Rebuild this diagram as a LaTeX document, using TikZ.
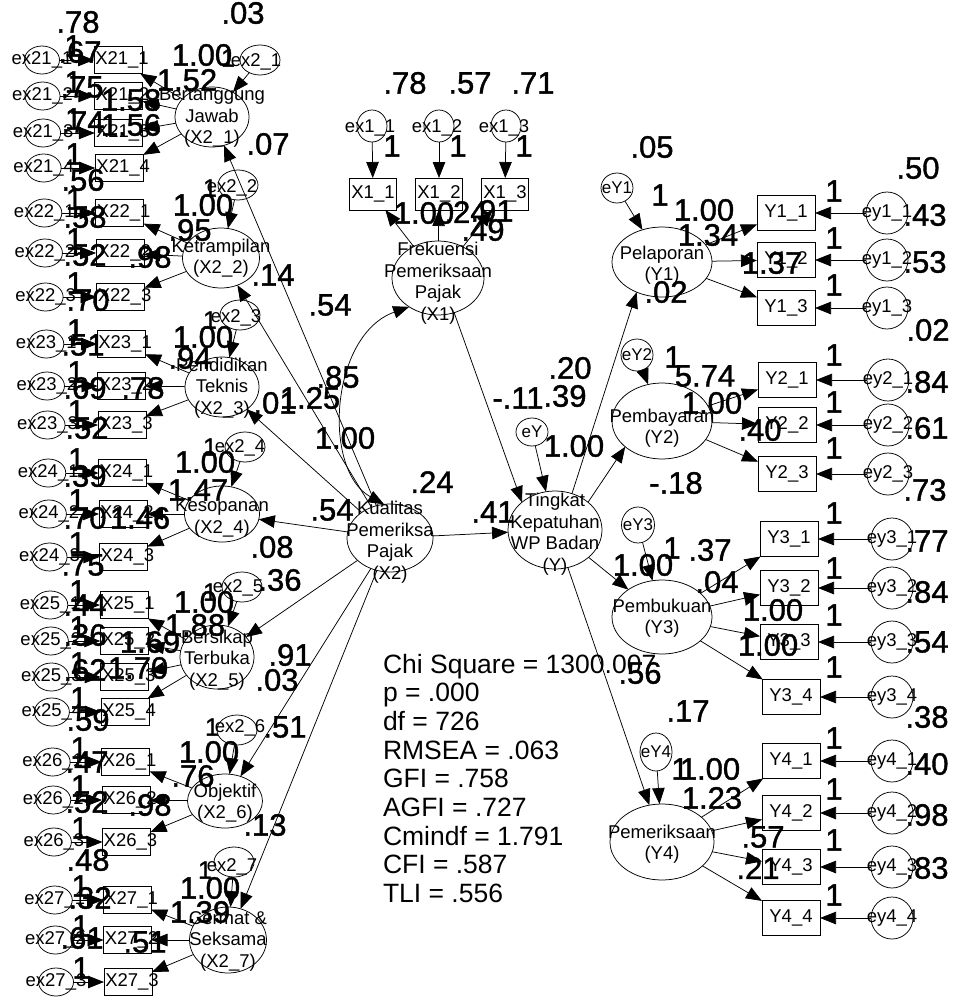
\documentclass[tikz,border=0pt]{standalone}
\usepackage{fontspec}
\setmainfont{Liberation Sans}
\newfontfamily\numfont[FakeBold=1.2]{Liberation Sans}
\usetikzlibrary{arrows.meta,shapes.geometric}
\begin{document}
\begin{tikzpicture}[x=1pt,y=-1pt,
  every node/.style={inner sep=0pt,outer sep=0pt},
  nm/.style={font=\fontsize{18.5}{21.5}\selectfont,align=center},
  sm/.style={font=\fontsize{17}{19}\selectfont},
  num/.style={font=\numfont\fontsize{31}{31}\selectfont},
  onesm/.style={font=\numfont\fontsize{25}{25}\selectfont},
  chi/.style={font=\fontsize{26.5}{28}\selectfont,anchor=base west},
  ln/.style={line width=0.75pt},
  boxL/.style={draw,ln,rectangle,minimum width=48pt,minimum height=27pt},
  boxM/.style={draw,ln,rectangle,minimum width=47pt,minimum height=32pt,font=\fontsize{18.5}{20}\selectfont},
  boxR/.style={draw,ln,rectangle,minimum width=58pt,minimum height=35pt,font=\fontsize{18.5}{20}\selectfont},
  lat/.style={draw,ln,ellipse},
  cir/.style={draw,ln,ellipse},
  arr/.style={ln,-{Triangle[length=16pt,width=12.5pt]}},
  darr/.style={ln,{Triangle[length=16pt,width=12.5pt]}-{Triangle[length=16pt,width=12.5pt]}},
]
\useasboundingbox (0,0) rectangle (953,1002);

% ---------------- left indicator column ----------------
\foreach \i/\el/\bl/\yy in {1/ex21\_1/X21\_1/60,2/ex21\_2/X21\_2/96,3/ex21\_3/X21\_3/133,4/ex21\_4/X21\_4/168,
  5/ex22\_1/X22\_1/213,6/ex22\_2/X22\_2/253,7/ex22\_3/X22\_3/297,
  8/ex23\_1/X23\_1/344,9/ex23\_2/X23\_2/386,10/ex23\_3/X23\_3/425,
  11/ex24\_1/X24\_1/473,12/ex24\_2/X24\_2/514,13/ex24\_3/X24\_3/557,
  14/ex25\_1/X25\_1/605,15/ex25\_2/X25\_2/641,16/ex25\_3/X25\_3/677,17/ex25\_4/X25\_4/712,
  18/ex26\_1/X26\_1/762,19/ex26\_2/X26\_2/800,20/ex26\_3/X26\_3/842,
  21/ex27\_1/X27\_1/900,22/ex27\_2/X27\_2/940,23/ex27\_3/X27\_3/982}{
  \pgfmathsetmacro\cx{42+(\yy-60)*14/922}
  \pgfmathsetmacro\bx{118+(\yy-60)*10/922}
  \pgfmathsetmacro\ox{73+(\yy-60)*8/922}
  \node[cir,minimum width=35pt,minimum height=28pt] (e\i) at (\cx,\yy) {};
  \node[nm] (te\i) at (\cx,\yy) {\el};
  \node[boxL] (b\i) at (\bx,\yy) {};
  \node[nm] (tb\i) at (\bx+4,\yy) {\bl};
  \draw[arr] (e\i) -- (b\i);
  \node[num] (o\i) at (\ox,\yy-14) {1};
}

% ---------------- left latent variables ----------------
\node[lat,minimum width=74pt,minimum height=60pt] (L1) at (212,117) {};
\node[nm] (tL1) at (212,118) {Bertanggung\\Jawab\\(X2\_1)};
\node[lat,minimum width=77pt,minimum height=60pt] (L2) at (221,258) {};
\node[nm] (tL2) at (221,258) {Ketrampilan\\(X2\_2)};
\node[lat,minimum width=74pt,minimum height=60pt] (L3) at (222,387) {};
\node[nm] (tL3) at (222,388) {Pendidikan\\Teknis\\(X2\_3)};
\node[lat,minimum width=75pt,minimum height=56pt] (L4) at (222,514) {};
\node[nm] (tL4) at (222,518) {Kesopanan\\(X2\_4)};
\node[lat,minimum width=74pt,minimum height=64pt] (L5) at (217,657) {};
\node[nm] (tL5) at (217,660) {Bersikap\\Terbuka\\(X2\_5)};
\node[lat,minimum width=75pt,minimum height=54pt] (L6) at (225,801) {};
\node[nm] (tL6) at (225,803) {Objektif\\(X2\_6)};
\node[lat,minimum width=77pt,minimum height=66pt] (L7) at (228,940) {};
\node[nm] (tL7) at (228,941) {Cermat \&\\Seksama\\(X2\_7)};

\foreach \k/\a/\b in {1/1/4,2/5/7,3/8/10,4/11/13,5/14/17,6/18/20,7/21/23}{
  \foreach \j in {\a,...,\b}{\draw[arr] (L\k) -- (b\j);}
}

% disturbances of the X2 dimensions
\foreach \k/\dx/\dy/\tx/\ty in {1/260/60/256/62,2/238/185/232/188,3/240/315/236/318,4/245/447/240/448,
  5/242/587/238/588,6/237/730/240/728,7/234/862/232/867}{
  \node[cir,minimum width=40pt,minimum height=30pt] (d\k) at (\dx,\dy) {};
  \node[nm] (td\k) at (\tx,\ty) {ex2\_\k};
  \draw[arr] (d\k) -- (L\k);
}

% ---------------- middle ----------------
\node[lat,minimum width=92pt,minimum height=74pt] (X1) at (438,278) {};
\node[nm] (tX1) at (438,283) {Frekuensi\\Pemeriksaan\\Pajak\\(X1)};
\node[lat,minimum width=86pt,minimum height=68pt] (X2) at (390,538) {};
\node[nm] (tX2) at (390,542) {Kualitas\\Pemeriksa\\Pajak\\(X2)};
\node[lat,minimum width=94pt,minimum height=78pt] (Y) at (555,530) {};
\node[nm] (tY) at (555,534) {Tingkat\\Kepatuhan\\WP Badan\\(Y)};

\foreach \k/\xx in {1/372,2/439,3/506}{
  \node[cir,minimum width=30pt,minimum height=32pt] (f\k) at (\xx,126) {};
  \node[nm] (tf\k) at (\xx-2,128) {ex1\_\k};
  \pgfmathsetmacro\bxx{\xx+1-(\k-1)*1}
  \node[boxM] (m\k) at (\bxx,194) {X1\_\k};
  \draw[arr] (f\k) -- (m\k);
  \draw[arr] (X1) -- (m\k);
}

\foreach \k in {1,...,7}{\draw[arr] (X2) -- (L\k);}

\draw[darr] (X1.225) .. controls (330,335) and (322,470) .. (X2.100);
\draw[arr] (X2) -- (Y);
\draw[arr] (X1.295) -- (Y.140);
\node[cir,minimum width=32pt,minimum height=28pt] (eY) at (532,432) {};
\node[sm] (teY) at (532,432) {eY};
\draw[arr] (eY) -- (Y);

% ---------------- right latent variables ----------------
\node[lat,minimum width=100pt,minimum height=70pt] (Y1) at (662,262) {};
\node[nm] (tY1) at (662,265) {Pelaporan\\(Y1)};
\node[lat,minimum width=100pt,minimum height=76pt] (Y2) at (662,421) {};
\node[nm] (tY2) at (662,428) {Pembayaran\\(Y2)};
\node[lat,minimum width=100pt,minimum height=74pt] (Y3) at (662,617) {};
\node[nm] (tY3) at (662,618) {Pembukuan\\(Y3)};
\node[lat,minimum width=104pt,minimum height=76pt] (Y4) at (662,842) {};
\node[nm] (tY4) at (662,844) {Pemeriksaan\\(Y4)};

\foreach \k/\xx/\yy/\ww/\hh in {1/617/188/32/30,2/637/355/32/32,3/638/525/33/36,4/656/752/32/38}{
  \node[cir,minimum width=\ww pt,minimum height=\hh pt] (eY\k) at (\xx,\yy) {};
  \node[sm] (teY\k) at (\xx,\yy) {eY\k};
  \draw[arr] (eY\k) -- (Y\k);
}

\draw[arr] (Y.65) -- (Y1.230);
\draw[arr] (Y.40) -- (Y2.215);
\draw[arr] (Y) -- (Y3);
\draw[arr] (Y) -- (Y4);

\foreach \n/\lb/\bx/\by/\cx/\el/\oy in {11/Y1\_1/786/213/887/ey1\_1/191,12/Y1\_2/786/260/887/ey1\_2/238,13/Y1\_3/786/308/887/ey1\_3/285,
  21/Y2\_1/787/380/888/ey2\_1/355,22/Y2\_2/787/425/888/ey2\_2/402,23/Y2\_3/787/474/888/ey2\_3/448,
  31/Y3\_1/789/539/892/ey3\_1/513,32/Y3\_2/789/588/892/ey3\_2/568,33/Y3\_3/789/642/892/ey3\_3/615,34/Y3\_4/791/697/892/ey3\_4/667,
  41/Y4\_1/791/761/892/ey4\_1/738,42/Y4\_2/791/813/892/ey4\_2/789,43/Y4\_3/791/867/892/ey4\_3/840,44/Y4\_4/791/918/892/ey4\_4/895}{
  \node[boxR] (r\n) at (\bx,\by) {\lb};
  \node[cir,minimum width=42pt,minimum height=42pt] (c\n) at (\cx,\by) {};
  \node[nm] (tc\n) at (\cx,\by) {\el};
  \draw[arr] (c\n) -- (r\n);
  \node[num] (q\n) at (834,\oy) {1};
}
\foreach \n in {11,12,13}{\draw[arr] (Y1) -- (r\n);}
\foreach \n in {21,22,23}{\draw[arr] (Y2) -- (r\n);}
\foreach \n in {31,32,33,34}{\draw[arr] (Y3) -- (r\n);}
\foreach \n in {41,42,43,44}{\draw[arr] (Y4) -- (r\n);}

% ---------------- estimates ----------------
\foreach \p/\t [count=\k] in {
  {(78,22)}/.78,{(80,52)}/.67,{(82,87)}/.75,{(83,122)}/.74,{(83,180)}/.56,{(85,217)}/.58,{(85,255)}/.52,
  {(88,300)}/.70,{(83,345)}/.51,{(85,388)}/.69,{(87,428)}/.52,{(85,476)}/.39,{(85,518)}/.70,{(83,565)}/.75,
  {(85,605)}/.44,{(85,635)}/.36,{(85,670)}/.62,{(88,720)}/.59,{(87,762)}/.47,{(87,802)}/.52,{(88,860)}/.48,
  {(90,898)}/.32,{(82,938)}/.61,
  {(202,55)}/1.00,{(187,80)}/1.52,{(131,100)}/1.58,{(131,125)}/1.56,
  {(203,205)}/1.00,{(190,230)}/.95,{(150,257)}/.98,
  {(203,337)}/1.00,{(190,358)}/.94,{(143,388)}/.78,
  {(205,462)}/1.00,{(198,490)}/1.47,{(140,518)}/1.46,
  {(204,602)}/1.00,{(195,625)}/1.88,{(150,642)}/1.69,{(138,668)}/1.70,
  {(209,752)}/1.00,{(193,776)}/.76,{(150,805)}/.98,
  {(210,888)}/1.00,{(200,912)}/1.39,{(145,942)}/.51,
  {(243,13)}/.03,{(268,144)}/.07,{(273,275)}/.14,{(275,403)}/.01,{(272,547)}/.08,{(280,580)}/.36,
  {(290,655)}/.91,{(277,680)}/.03,{(285,727)}/.51,{(265,825)}/.13,
  {(405,83)}/.78,{(470,83)}/.57,{(533,83)}/.71,{(392,146)}/1,{(458,146)}/1,{(524,146)}/1,
  {(424,213)}/1.00,{(466,212)}/.24,{(492,211)}/.91,{(483,230)}/.49,
  {(330,305)}/.54,{(338,377)}/.85,{(310,398)}/1.25,{(345,438)}/1.00,{(332,510)}/.54,{(432,482)}/.24,
  {(493,512)}/.41,{(518,398)}/-.11,{(565,396)}/.39,{(570,368)}/.20,{(574,446)}/1.00,
  {(652,147)}/.05,{(660,195)}/1,{(704,210)}/1.00,{(708,235)}/1.34,{(772,263)}/1.37,{(666,292)}/.02,
  {(918,168)}/.50,{(925,215)}/.43,{(925,262)}/.53,{(928,330)}/.02,
  {(673,357)}/1,{(705,376)}/5.74,{(712,403)}/1.00,{(760,430)}/.40,{(676,483)}/-.18,
  {(927,382)}/.84,{(927,428)}/.61,{(925,490)}/.73,
  {(672,548)}/1,{(710,550)}/.37,{(643,565)}/1.00,{(717,582)}/.04,{(773,610)}/1.00,{(768,645)}/1.00,
  {(927,541)}/.77,{(927,592)}/.84,{(927,642)}/.54,{(927,717)}/.38,{(640,673)}/.56,
  {(688,711)}/.17,{(680,769)}/1,{(710,769)}/1.00,{(712,798)}/1.23,{(763,837)}/.57,{(758,868)}/.21,
  {(927,764)}/.40,{(927,815)}/.98,{(927,868)}/.83}{
  \node[num] (n\k) at \p {\t};
}
\foreach \p [count=\k] in {{(228,58)},{(210,188)},{(210,320)},{(210,447)},{(210,592)},{(212,727)},{(205,870)}}{
  \node[onesm] (u\k) at \p {1};
}

% ---------------- fit statistics ----------------
\foreach \t [count=\k] in {Chi Square = 1300.007,p = .000,df = 726,RMSEA = .063,GFI = .758,AGFI = .727,Cmindf = 1.791,CFI = .587,TLI = .556}{
  \node[chi] (s\k) at (383,{673+(\k-1)*28.7}) {\t};
}
\end{tikzpicture}
\end{document}
